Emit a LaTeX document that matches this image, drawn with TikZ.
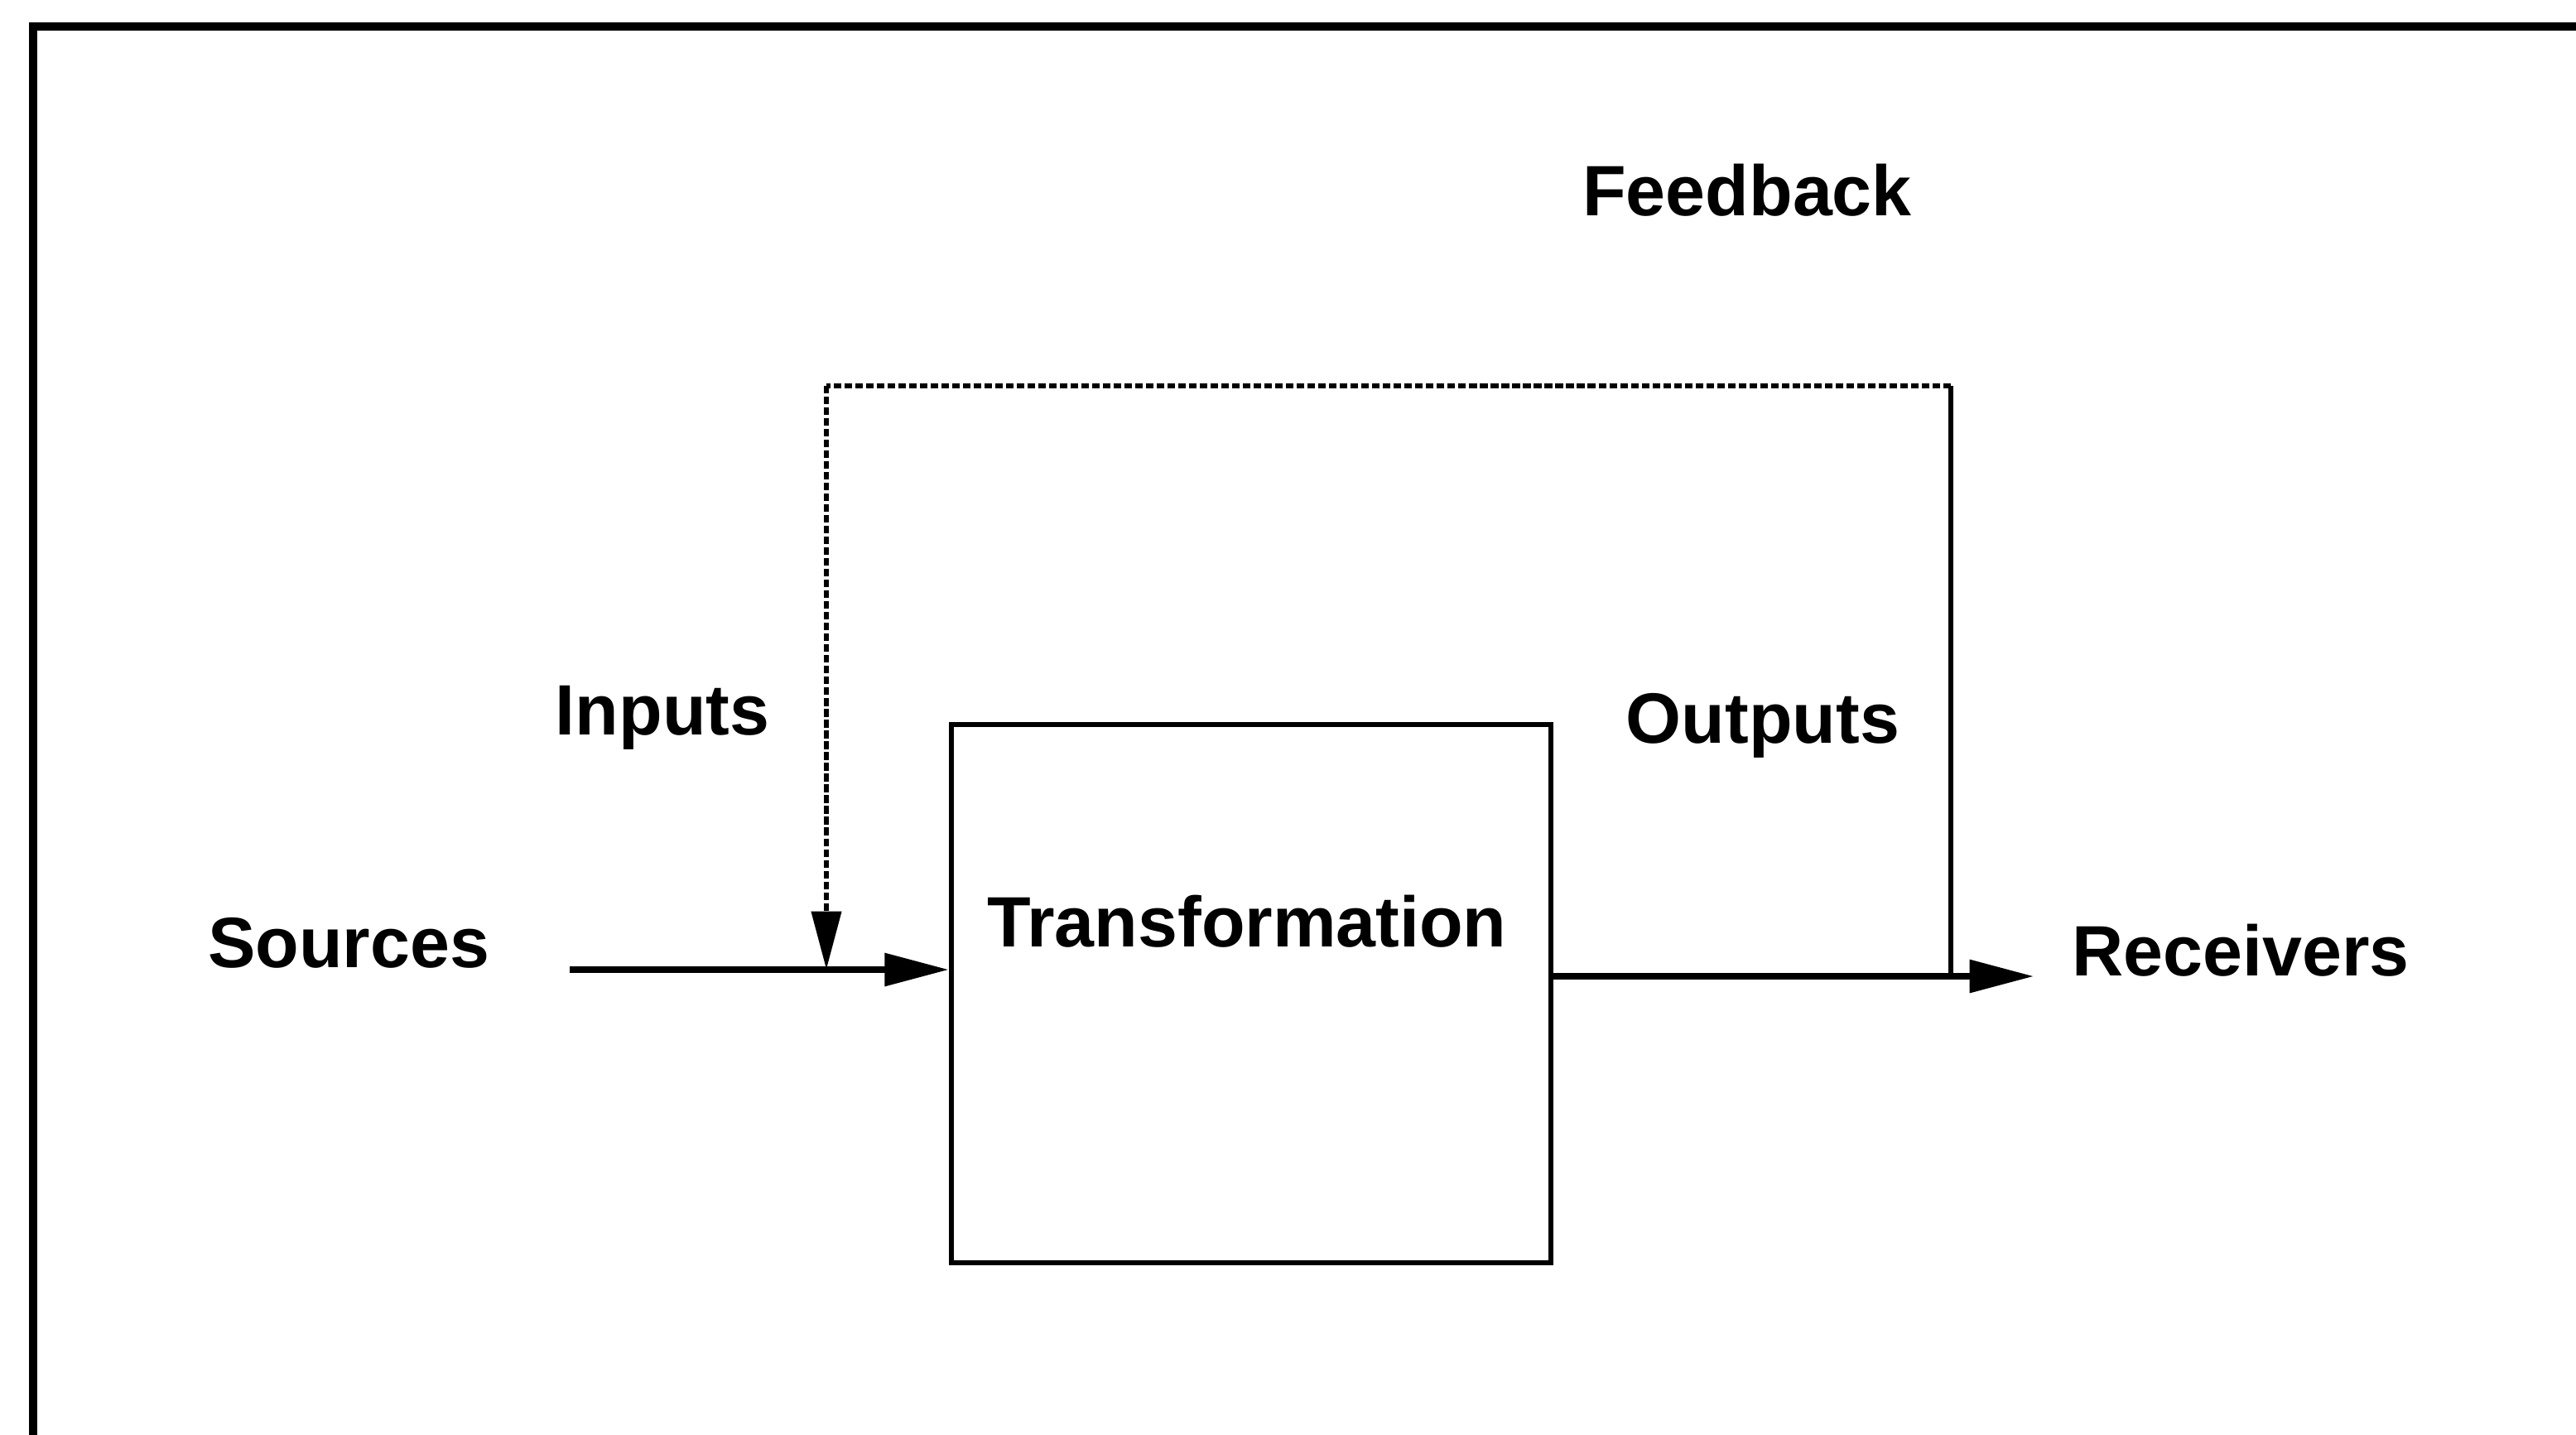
\documentclass[tikz,border=0pt]{standalone}
\usepackage{fontspec}
\setmainfont{Liberation Sans}
\usetikzlibrary{arrows.meta}

\begin{document}
\begin{tikzpicture}[x=0.01cm, y=-0.01cm,
    lbl/.style={font=\fontsize{24.5}{30}\selectfont\bfseries, inner sep=0pt, anchor=base},
    flow/.style={line width=2.1pt},
    fb/.style={line width=1.9pt, dash pattern=on 2.6pt off 1.1pt},
    >={Triangle[length=22pt,width=11pt]}]
\clip (0,0) rectangle (3111,1732);
% frame, cut off at right and bottom
\draw[line width=3.1pt] (40,32) rectangle (3200,1800);
%
       \node [draw, line width=1.8pt, minimum width=7.24cm, minimum height=6.49cm] at (1511,1200) (trans) {};
          \node [lbl] at (1506,1143) (trans text) {Transformation};
             \node [lbl] at (421,1168) (sources) {Sources};
              \node [lbl] at (800,887) (inputs) {Inputs};
                \node [lbl] at (2129,897) (outputs) {Outputs};
                 \node [lbl] at (2706,1178) (receivers) {Receivers};
                   \node [lbl] at (2110,260) (feedback) {Feedback};
%
             \coordinate (src) at (688,1171);
             \coordinate (in join) at (998,1171);
             \coordinate (fb left) at (998,466);
             \coordinate (fb right) at (2356,466);
             \coordinate (out join) at (2356,1179);
             \coordinate (rcv) at (2456,1179);
%
%
\path[->,flow] (src) edge (src -| trans.west);
\path[-,flow] (trans.east |- out join) edge (out join);
\path[->,flow] (out join) edge (rcv);
\draw[line width=1.9pt] (out join) -- (fb right);
\draw[fb] (fb right) -- (fb left);
\draw[fb,->,>={Triangle[length=20pt,width=10pt]}] (fb left) -- (in join);

\end{tikzpicture}
\end{document}
